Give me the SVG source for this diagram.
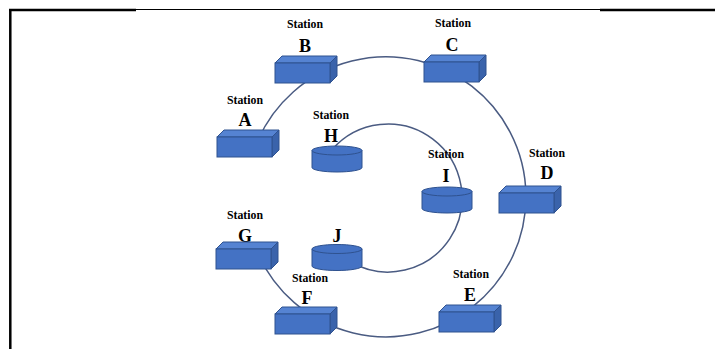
<svg xmlns="http://www.w3.org/2000/svg" width="715" height="349" viewBox="0 0 715 349">
  <style>
    .frame-thick { stroke: #000; stroke-width: 2.5; fill: none; }
    .frame-thin { stroke: #000; stroke-width: 1; fill: none; }
    .ring { stroke: #4a5b82; stroke-width: 1.5; fill: none; }
    .front { fill: #4472c4; stroke: #2f528f; stroke-width: 1; }
    .top { fill: #5583d2; stroke: #2f528f; stroke-width: 1; }
    .side { fill: #3a63ab; stroke: #2f528f; stroke-width: 1; }
    .cyl { fill: #4472c4; stroke: #2f528f; stroke-width: 1; }
    .st { font-family: "Liberation Serif", "Times New Roman", serif; font-weight: bold; font-size: 11.5px; fill: #000; text-anchor: middle; }
    .lt { font-family: "Liberation Serif", "Times New Roman", serif; font-weight: bold; font-size: 18px; fill: #000; text-anchor: middle; }
  </style>
  <defs>
    <!-- 3D box: front 55x20, depth 7 -->
    <g id="box">
      <polygon class="top" points="0,0 7,-7 62,-7 55,0"/>
      <polygon class="side" points="55,0 62,-7 62,13 55,20"/>
      <rect class="front" x="0" y="0" width="55" height="20"/>
    </g>
    <!-- cylinder: width 50, body height 17 -->
    <g id="cyl">
      <path class="cyl" d="M0,0 L0,17 A25,4.5 0 0 0 50,17 L50,0 Z"/>
      <ellipse class="cyl" cx="25" cy="0" rx="25" ry="4.5"/>
    </g>
  </defs>

  <rect width="715" height="349" fill="#fff"/>

  <!-- page frame -->
  <g id="frame">
    <line class="frame-thick" x1="9" y1="10" x2="136" y2="10"/>
    <line class="frame-thin" x1="136" y1="9.5" x2="600" y2="9.5"/>
    <line class="frame-thick" x1="600" y1="10" x2="715" y2="10"/>
    <line class="frame-thick" x1="10.3" y1="9" x2="10.3" y2="349"/>
  </g>

  <!-- ring connectors -->
  <g id="connectors">
    <path class="ring" d="M258,140 A140,140 0 1 1 258.6,255"/>
    <path class="ring" d="M331.7,150 A74,74 0 1 1 350.9,262"/>
  </g>

  <g id="station-A">
    <text class="st" x="245" y="104" textLength="36" lengthAdjust="spacingAndGlyphs">Station</text>
    <text class="lt" x="245" y="126">A</text>
    <use href="#box" x="217" y="137"/>
  </g>
  <g id="station-B">
    <text class="st" x="305" y="28" textLength="36" lengthAdjust="spacingAndGlyphs">Station</text>
    <text class="lt" x="305" y="52">B</text>
    <use href="#box" x="275" y="63"/>
  </g>
  <g id="station-C">
    <text class="st" x="453" y="27" textLength="36" lengthAdjust="spacingAndGlyphs">Station</text>
    <text class="lt" x="452" y="51">C</text>
    <use href="#box" x="424" y="62"/>
  </g>
  <g id="station-D">
    <text class="st" x="547" y="157" textLength="36" lengthAdjust="spacingAndGlyphs">Station</text>
    <text class="lt" x="547" y="179">D</text>
    <use href="#box" x="499" y="193"/>
  </g>
  <g id="station-E">
    <text class="st" x="471" y="278" textLength="36" lengthAdjust="spacingAndGlyphs">Station</text>
    <text class="lt" x="470" y="301">E</text>
    <use href="#box" x="439" y="312"/>
  </g>
  <g id="station-F">
    <text class="st" x="310" y="282" textLength="36" lengthAdjust="spacingAndGlyphs">Station</text>
    <text class="lt" x="307" y="304">F</text>
    <use href="#box" x="275" y="314"/>
  </g>
  <g id="station-G">
    <text class="st" x="245" y="219" textLength="36" lengthAdjust="spacingAndGlyphs">Station</text>
    <text class="lt" x="245" y="242">G</text>
    <use href="#box" x="216" y="249"/>
  </g>
  <g id="station-H">
    <text class="st" x="331" y="119" textLength="36" lengthAdjust="spacingAndGlyphs">Station</text>
    <text class="lt" x="331" y="142">H</text>
    <use href="#cyl" x="312" y="150.5"/>
  </g>
  <g id="station-I">
    <text class="st" x="446" y="158" textLength="36" lengthAdjust="spacingAndGlyphs">Station</text>
    <text class="lt" x="446" y="182">I</text>
    <use href="#cyl" x="422" y="191.5"/>
  </g>
  <g id="station-J">
    <text class="lt" x="337" y="242">J</text>
    <use href="#cyl" x="312" y="249"/>
  </g>
</svg>
